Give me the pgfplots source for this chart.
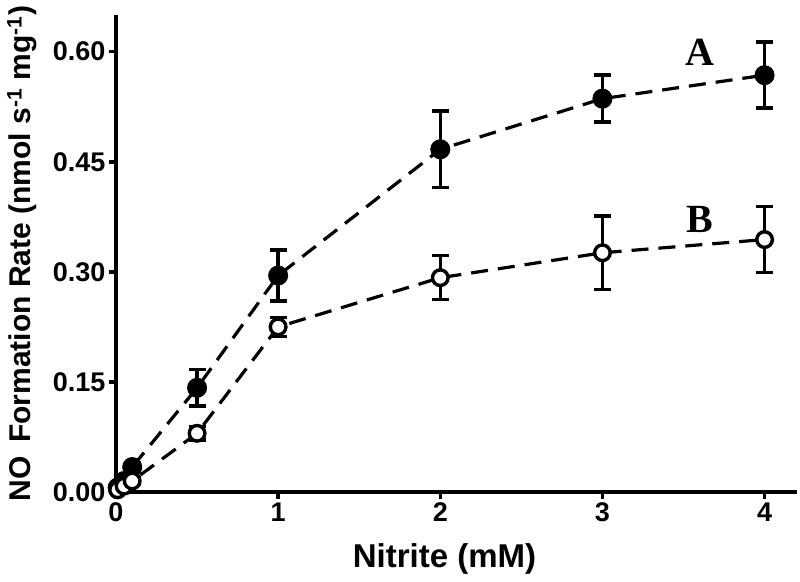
\documentclass[border=0pt]{standalone}
\usepackage{pgfplots}
\pgfplotsset{compat=1.18}
\usepackage{fontspec}
\setmainfont{Liberation Sans}
\newfontfamily\serifbf{Liberation Serif}
\begin{document}
\begin{tikzpicture}[x=1pt,y=1pt]
\begin{axis}[
 at={(0,0)}, anchor=south west, scale only axis,
 width=681pt, height=477pt,
 xmin=0, xmax=4.2, ymin=0, ymax=0.65,
 axis x line*=bottom, axis y line*=left,
 axis line style={line width=3.5pt, -},
 xtick={0,1,2,3,4}, ytick={0,0.15,0.30,0.45,0.60},
 yticklabel style={/pgf/number format/.cd, fixed, fixed zerofill, precision=2},
 /pgf/number format/assume math mode=true,
 tick style={line width=3.5pt, black},
 tick align=outside, major tick length=7pt,
 ticklabel style={font=\fontsize{27}{27}\selectfont\bfseries},
 xlabel={Nitrite (mM)},
 ylabel={NO\, Formation Rate (nmol s\textsuperscript{-1} mg\textsuperscript{-1})},
 label style={font=\fontsize{30}{30}\selectfont\bfseries},
 xlabel style={font=\fontsize{33}{33}\selectfont\bfseries, yshift=-15pt, xshift=-12pt},
 ylabel style={at={(rel axis cs:0,0.5)}, anchor=center, yshift=94pt},
 clip=false,
]
% series A: error bars and dashed line
\addplot[line width=3.2pt, dash pattern=on 17pt off 10pt, no marks,
  error bars/.cd, y dir=both, y explicit,
  error bar style={line width=3.5pt, solid},
  error mark options={rotate=90, mark size=8.5pt, line width=3.5pt, solid}]
 table[x=x, y=y, y error=e] {
x y e
0.01 0.006 0.002
0.05 0.015 0.004
0.1 0.034 0.006
0.5 0.142 0.025
1 0.295 0.035
2 0.467 0.052
3 0.536 0.032
4 0.568 0.045
};
% series B: error bars and dashed line
\addplot[line width=3.2pt, dash pattern=on 17pt off 10pt, no marks,
  error bars/.cd, y dir=both, y explicit,
  error bar style={line width=3.5pt, solid},
  error mark options={rotate=90, mark size=8.5pt, line width=3.5pt, solid}]
 table[x=x, y=y, y error=e] {
x y e
0.01 0.003 0.002
0.05 0.008 0.003
0.1 0.015 0.004
0.5 0.080 0.009
1 0.225 0.013
2 0.292 0.030
3 0.326 0.050
4 0.344 0.045
};
% markers A
\addplot[only marks, mark=*, mark size=9.5pt, mark options={solid, fill=black, draw=black, line width=1pt}]
 table[x=x, y=y] {
x y
0.01 0.006
0.05 0.015
0.1 0.034
0.5 0.142
1 0.295
2 0.467
3 0.536
4 0.568
};
% markers B
\addplot[only marks, mark=*, mark size=7.8pt, mark options={solid, fill=white, draw=black, line width=3.4pt}]
 table[x=x, y=y] {
x y
0.01 0.003
0.05 0.008
0.1 0.015
0.5 0.080
1 0.225
2 0.292
3 0.326
4 0.344
};
\node[font=\fontsize{40}{40}\selectfont\serifbf\bfseries] at (axis cs:3.6,0.599) {A};
\node[font=\fontsize{40}{40}\selectfont\serifbf\bfseries] at (axis cs:3.6,0.371) {B};
\end{axis}
\pgfresetboundingbox
\path (-116,-89) rectangle (684,492);
\end{tikzpicture}
\end{document}
